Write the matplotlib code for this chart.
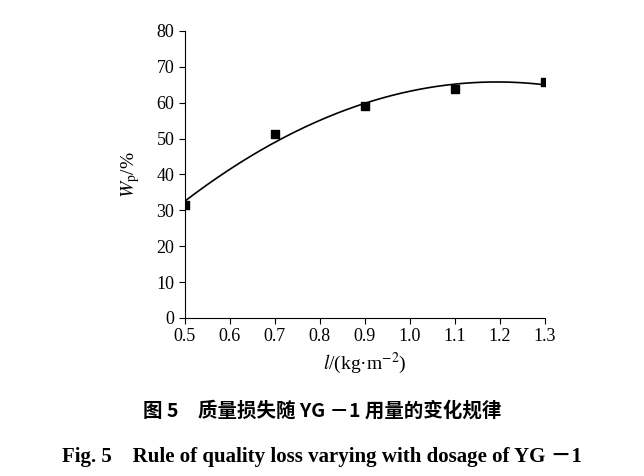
import numpy as np
import matplotlib
matplotlib.use("Agg")
import matplotlib.pyplot as plt

dosage = [0.5, 0.7, 0.9, 1.1, 1.3]
wp = [31.5, 51.3, 59.1, 63.8, 65.8]
xticks = [0.5, 0.6, 0.7, 0.8, 0.9, 1.0, 1.1, 1.2, 1.3]
yticks = [0, 10, 20, 30, 40, 50, 60, 70, 80]

plt.rcParams["font.family"] = "Liberation Serif"
plt.rcParams["mathtext.fontset"] = "stix"
fig = plt.figure(figsize=(6.44, 4.76), dpi=100)
ax = fig.add_axes([0.287, 0.332, 0.559, 0.603])

coef = np.polyfit(dosage, wp, 2)
xs = np.linspace(min(dosage), max(dosage), 200)
ax.plot(xs, np.polyval(coef, xs), color="black", lw=1.2)
ax.scatter(dosage, wp, marker="s", s=40, color="black", zorder=3)

ax.set_xlim(0.5, 1.3)
ax.set_ylim(0, 80)
ax.set_xticks(xticks)
ax.set_yticks(yticks)
ax.set_xticklabels([f"{v:.1f}" for v in xticks])
ax.tick_params(labelsize=13, direction="out", length=4)
for s in ["top", "right"]:
    ax.spines[s].set_visible(False)
ax.set_xlabel(r"$l$/(kg·m$^{-2}$)", fontsize=14)
ax.set_ylabel(r"$W_{\mathrm{p}}$/%", fontsize=14)
ax.yaxis.set_label_coords(-0.12, 0.5)

fig.text(0.50, 0.125, "图 5　质量损失随 YG －1 用量的变化规律", ha="center",
         fontsize=14, fontweight="bold", family="Noto Sans CJK SC")
fig.text(0.50, 0.03, "Fig. 5　Rule of quality loss varying with dosage of YG －1", ha="center",
         fontsize=15, fontweight="bold", family=["Liberation Serif", "Noto Sans CJK SC"])
fig.savefig("out.png", dpi=100)
